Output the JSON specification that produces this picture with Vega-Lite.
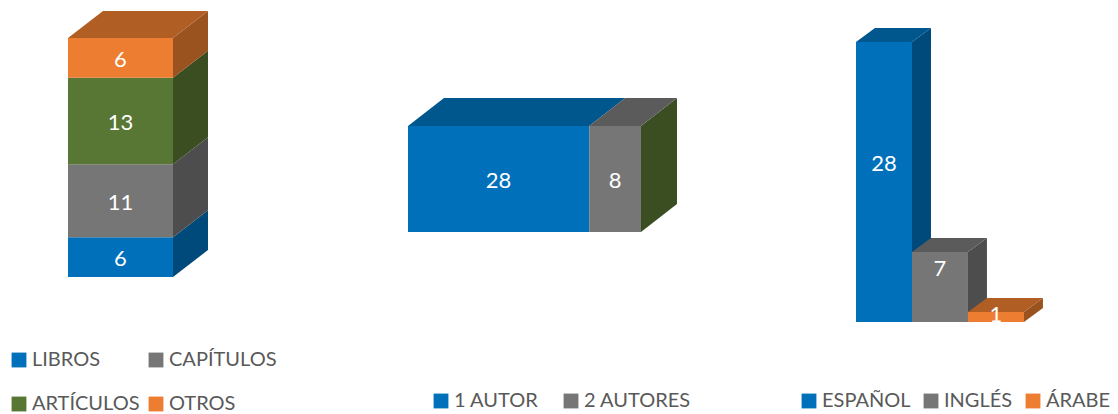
{
"$schema":"https://vega.github.io/schema/vega-lite/v6.json",
"padding":0,"spacing":0,"autosize":{"type":"pad"},
"config":{"view":{"stroke":null},"concat":{"spacing":0},"font":"Lato"},
"datasets":{
"tipo":[{"categoria":"LIBROS","valor":6},{"categoria":"CAPÍTULOS","valor":11},{"categoria":"ARTÍCULOS","valor":13},{"categoria":"OTROS","valor":6}],
"autores":[{"categoria":"1 AUTOR","valor":28},{"categoria":"2 AUTORES","valor":8}],
"idioma":[{"categoria":"ESPAÑOL","valor":28},{"categoria":"INGLÉS","valor":7},{"categoria":"ÁRABE","valor":1}]
},
"hconcat":[
{"width":372,"height":414,"data":{"name":"tipo"},
"transform":[{"window":[{"op":"row_number","as":"i"}]},{"stack":"valor","groupby":[],"sort":[{"field":"i"}],"as":["v0","v1"]},
{"calculate":"0","as":"xa"},{"calculate":"1","as":"xb"},{"calculate":"datum.v0","as":"ya"},{"calculate":"datum.v1","as":"yb"},{"calculate":"(datum.ya+datum.yb)/2","as":"ly"}],
"resolve":{"scale":{"color":"independent"}},
"layer":[
{"transform":[{"calculate":"[0,1]","as":"k"},{"flatten":["k"]},{"calculate":"datum.xb+datum.k*0.3333","as":"fx"},{"calculate":"datum.ya+datum.k*4.067","as":"fy"},{"calculate":"datum.yb+datum.k*4.067","as":"fy2"}],
"mark":{"type":"area","orient":"vertical"},
"encoding":{"x":{"field":"fx","type":"quantitative","axis":null,"scale":{"domain":[-0.6476,2.8952],"nice":false,"zero":false}},
"y":{"field":"fy","type":"quantitative","stack":null,"axis":null,"scale":{"domain":[-20.636,41.723],"nice":false,"zero":false}},"y2":{"field":"fy2"},
"color":{"field":"categoria","type":"nominal","legend":null,"scale":{"domain":["LIBROS","CAPÍTULOS","ARTÍCULOS","OTROS"],"range":["#004A7B","#4D4D4D","#3A4E22","#9A521F"]}}}},
{"transform":[{"filter":"datum.v1==36"},{"calculate":"[0,1]","as":"k"},{"flatten":["k"]},{"calculate":"datum.xa+datum.k*0.3333","as":"fx"},{"calculate":"datum.xb+datum.k*0.3333","as":"fx2"},{"calculate":"datum.yb+datum.k*4.067","as":"fy"}],
"mark":{"type":"area","orient":"horizontal"},
"encoding":{"y":{"field":"fy","type":"quantitative","axis":null,"scale":{"domain":[-20.636,41.723],"nice":false,"zero":false}},
"x":{"field":"fx","type":"quantitative","stack":null,"axis":null,"scale":{"domain":[-0.6476,2.8952],"nice":false,"zero":false}},"x2":{"field":"fx2"},
"color":{"field":"categoria","type":"nominal","legend":null,"scale":{"domain":["OTROS"],"range":["#B15E25"]}}}},
{"mark":{"type":"rect"},
"encoding":{"x":{"field":"xa","type":"quantitative","axis":null,"scale":{"domain":[-0.6476,2.8952],"nice":false,"zero":false}},"x2":{"field":"xb"},
"y":{"field":"ya","type":"quantitative","axis":null,"scale":{"domain":[-20.636,41.723],"nice":false,"zero":false}},"y2":{"field":"yb"},
"color":{"field":"categoria","type":"nominal","scale":{"domain":["LIBROS","CAPÍTULOS","ARTÍCULOS","OTROS"],"range":["#0070BA","#767676","#587634","#ED7D31"]},
"legend":{"title":null,"orient":"none","direction":"horizontal","legendX":9,"legendY":350,"columns":2,"symbolType":"square","symbolSize":220,"symbolStrokeWidth":0,"labelFont":"Lato","labelFontSize":20,"labelColor":"#595959","labelOffset":3,"rowPadding":24,"columnPadding":6,"labelLimit":300,"padding":0}}}},
{"transform":[{"calculate":"(datum.xa+datum.xb)/2","as":"lx"}],
"mark":{"type":"text","color":"#FFFFFF","fontSize":22,"font":"Lato","baseline":"middle","dy":2},
"encoding":{"x":{"field":"lx","type":"quantitative","axis":null,"scale":{"domain":[-0.6476,2.8952],"nice":false,"zero":false}},
"y":{"field":"ly","type":"quantitative","axis":null,"scale":{"domain":[-20.636,41.723],"nice":false,"zero":false}},
"text":{"field":"valor","type":"quantitative"}}}
]},
{"width":372,"height":414,"data":{"name":"autores"},
"transform":[{"window":[{"op":"row_number","as":"i"}]},{"stack":"valor","groupby":[],"sort":[{"field":"i"}],"as":["v0","v1"]},
{"calculate":"datum.v0","as":"xa"},{"calculate":"datum.v1","as":"xb"},{"calculate":"0","as":"ya"},{"calculate":"1","as":"yb"},{"calculate":"(datum.ya+datum.yb)/2","as":"ly"}],
"resolve":{"scale":{"color":"independent"}},
"layer":[
{"transform":[{"filter":"datum.v1==36"},{"calculate":"[0,1]","as":"k"},{"flatten":["k"]},{"calculate":"datum.xb+datum.k*5.562","as":"fx"},{"calculate":"datum.ya+datum.k*0.264","as":"fy"},{"calculate":"datum.yb+datum.k*0.264","as":"fy2"}],
"mark":{"type":"area","orient":"vertical"},
"encoding":{"x":{"field":"fx","type":"quantitative","axis":null,"scale":{"domain":[-5.562,51.916],"nice":false,"zero":false}},
"y":{"field":"fy","type":"quantitative","stack":null,"axis":null,"scale":{"domain":[-1.717,2.189],"nice":false,"zero":false}},"y2":{"field":"fy2"},
"color":{"field":"categoria","type":"nominal","legend":null,"scale":{"domain":["2 AUTORES"],"range":["#3A4E22"]}}}},
{"transform":[{"calculate":"[0,1]","as":"k"},{"flatten":["k"]},{"calculate":"datum.xa+datum.k*5.562","as":"fx"},{"calculate":"datum.xb+datum.k*5.562","as":"fx2"},{"calculate":"datum.yb+datum.k*0.264","as":"fy"}],
"mark":{"type":"area","orient":"horizontal"},
"encoding":{"y":{"field":"fy","type":"quantitative","axis":null,"scale":{"domain":[-1.717,2.189],"nice":false,"zero":false}},
"x":{"field":"fx","type":"quantitative","stack":null,"axis":null,"scale":{"domain":[-5.562,51.916],"nice":false,"zero":false}},"x2":{"field":"fx2"},
"color":{"field":"categoria","type":"nominal","legend":null,"scale":{"domain":["1 AUTOR","2 AUTORES"],"range":["#00578E","#5B5B5B"]}}}},
{"mark":{"type":"rect"},
"encoding":{"x":{"field":"xa","type":"quantitative","axis":null,"scale":{"domain":[-5.562,51.916],"nice":false,"zero":false}},"x2":{"field":"xb"},
"y":{"field":"ya","type":"quantitative","axis":null,"scale":{"domain":[-1.717,2.189],"nice":false,"zero":false}},"y2":{"field":"yb"},
"color":{"field":"categoria","type":"nominal","scale":{"domain":["1 AUTOR","2 AUTORES"],"range":["#0070BA","#767676"]},
"legend":{"title":null,"orient":"none","direction":"horizontal","legendX":59,"legendY":391,"columns":2,"symbolType":"square","symbolSize":220,"symbolStrokeWidth":0,"labelFont":"Lato","labelFontSize":20,"labelColor":"#595959","labelOffset":3,"columnPadding":22,"labelLimit":300,"padding":0}}}},
{"transform":[{"calculate":"(datum.xa+datum.xb)/2","as":"lx"}],
"mark":{"type":"text","color":"#FFFFFF","fontSize":22,"font":"Lato","baseline":"middle","dy":2},
"encoding":{"x":{"field":"lx","type":"quantitative","axis":null,"scale":{"domain":[-5.562,51.916],"nice":false,"zero":false}},
"y":{"field":"ly","type":"quantitative","axis":null,"scale":{"domain":[-1.717,2.189],"nice":false,"zero":false}},
"text":{"field":"valor","type":"quantitative"}}}
]},
{"width":374,"height":414,"data":{"name":"idioma"},
"transform":[{"window":[{"op":"row_number","as":"i"}]},
{"calculate":"datum.i-1","as":"xa"},{"calculate":"datum.i","as":"xb"},{"calculate":"0","as":"ya"},{"calculate":"datum.valor","as":"yb"},{"calculate":"datum.yb/2+min(1.9,datum.yb*0.3)","as":"ly"}],
"resolve":{"scale":{"color":"independent"}},
"layer":[
{"transform":[{"calculate":"[0,1]","as":"k"},{"flatten":["k"]},{"calculate":"datum.xb+datum.k*0.339","as":"fx"},{"calculate":"datum.ya+datum.k*1.4","as":"fy"},{"calculate":"datum.yb+datum.k*1.4","as":"fy2"}],
"mark":{"type":"area","orient":"vertical"},
"encoding":{"x":{"field":"fx","type":"quantitative","axis":null,"scale":{"domain":[-2,4.679],"nice":false,"zero":false}},
"y":{"field":"fy","type":"quantitative","stack":null,"axis":null,"scale":{"domain":[-9.2,32.2],"nice":false,"zero":false}},"y2":{"field":"fy2"},
"color":{"field":"categoria","type":"nominal","legend":null,"scale":{"domain":["ESPAÑOL","INGLÉS","ÁRABE"],"range":["#004A7B","#4D4D4D","#9A521F"]}}}},
{"transform":[{"calculate":"[0,1]","as":"k"},{"flatten":["k"]},{"calculate":"datum.xa+datum.k*0.339","as":"fx"},{"calculate":"datum.xb+datum.k*0.339","as":"fx2"},{"calculate":"datum.yb+datum.k*1.4","as":"fy"}],
"mark":{"type":"area","orient":"horizontal"},
"encoding":{"y":{"field":"fy","type":"quantitative","axis":null,"scale":{"domain":[-9.2,32.2],"nice":false,"zero":false}},
"x":{"field":"fx","type":"quantitative","stack":null,"axis":null,"scale":{"domain":[-2,4.679],"nice":false,"zero":false}},"x2":{"field":"fx2"},
"color":{"field":"categoria","type":"nominal","legend":null,"scale":{"domain":["ESPAÑOL","INGLÉS","ÁRABE"],"range":["#00578E","#5B5B5B","#B15E25"]}}}},
{"mark":{"type":"rect"},
"encoding":{"x":{"field":"xa","type":"quantitative","axis":null,"scale":{"domain":[-2,4.679],"nice":false,"zero":false}},"x2":{"field":"xb"},
"y":{"field":"ya","type":"quantitative","axis":null,"scale":{"domain":[-9.2,32.2],"nice":false,"zero":false}},"y2":{"field":"yb"},
"color":{"field":"categoria","type":"nominal","scale":{"domain":["ESPAÑOL","INGLÉS","ÁRABE"],"range":["#0070BA","#767676","#ED7D31"]},
"legend":{"title":null,"orient":"none","direction":"horizontal","legendX":55,"legendY":391,"columns":3,"symbolType":"square","symbolSize":220,"symbolStrokeWidth":0,"labelFont":"Lato","labelFontSize":20,"labelColor":"#595959","labelOffset":3,"columnPadding":10,"labelLimit":300,"padding":0}}}},
{"transform":[{"calculate":"(datum.xa+datum.xb)/2","as":"lx"}],
"mark":{"type":"text","color":"#FFFFFF","fontSize":22,"font":"Lato","baseline":"middle","dy":1},
"encoding":{"x":{"field":"lx","type":"quantitative","axis":null,"scale":{"domain":[-2,4.679],"nice":false,"zero":false}},
"y":{"field":"ly","type":"quantitative","axis":null,"scale":{"domain":[-9.2,32.2],"nice":false,"zero":false}},
"text":{"field":"valor","type":"quantitative"}}}
]}
]}
